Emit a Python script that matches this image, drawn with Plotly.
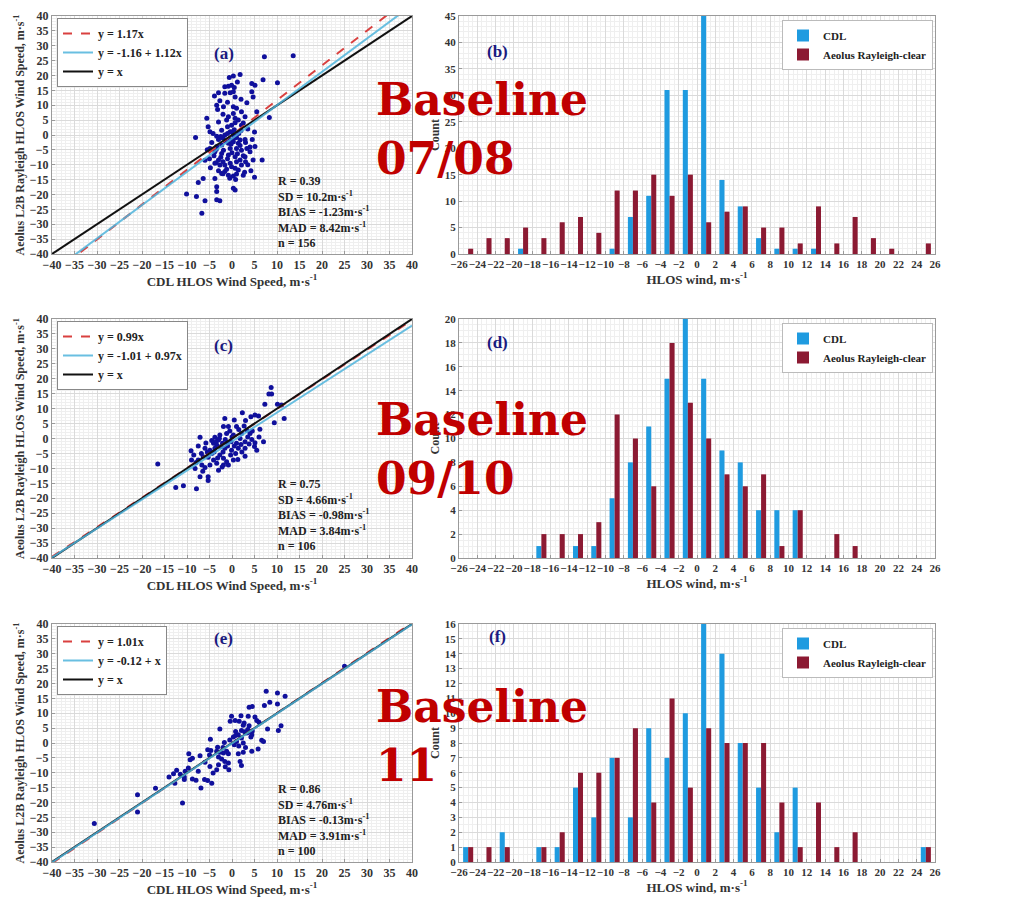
import plotly.graph_objects as go

W, H = 1010, 901

# ---------------- data ----------------
# scatter (CDL HLOS, Aeolus HLOS) pairs, m/s
a_pairs = [
    (7.2, 26.3), (13.6, 26.6), (1.8, 20.3), (0.3, 19.8), (-0.6, 19.3), (1.2, 17.8), (-0.8, 16.4),
    (-1.6, 16.2), (-0.1, 16.7), (4.4, 17.3), (5.1, 16.7), (6.9, 18.6), (10.1, 17.6), (0.5, 16.0),
    (-0.4, 14.2), (-1.6, 14.0), (-3.0, 14.2), (-3.9, 13.1), (-2.7, 11.5), (-3.4, 10.0), (-1.9, 9.5),
    (-3.2, 8.6), (0.3, 14.5), (0.7, 12.8), (3.3, 10.8), (4.4, 14.5), (4.7, 12.8), (0.3, 9.5),
    (2.1, 7.8), (0.3, 7.2), (-0.8, 6.1), (0.7, 5.6), (1.4, 5.0), (2.9, 6.1), (5.5, 7.8), (8.3, 5.9),
    (-5.6, 5.6), (-8.1, -0.8), (-5.3, 2.8), (-4.9, 1.1), (-3.0, 4.4), (-2.3, 1.6), (-1.0, 2.8),
    (-0.1, 3.3), (0.7, 4.1), (2.1, 3.3), (-1.2, 5.0), (-0.4, 1.1), (-3.4, -0.4), (-4.2, 0.5),
    (-1.6, 0.0), (0.3, 0.0), (1.0, -0.8), (1.8, -1.7), (2.9, -1.5), (0.3, -2.3), (1.4, -2.8),
    (-0.8, -2.8), (-2.3, -3.4), (-3.4, -3.9), (-4.9, -4.5), (-3.8, -5.6), (-1.9, -5.1), (-0.4, -4.5),
    (1.0, -4.5), (2.1, -5.1), (3.3, -4.5), (4.0, -5.6), (5.1, -3.9), (2.9, -7.3), (1.8, -8.4),
    (0.7, -7.3), (-0.8, -6.7), (-2.3, -6.2), (-3.0, -8.4), (-3.8, -9.5), (-2.7, -10.1), (-1.6, -10.1),
    (-0.4, -9.5), (4.7, -8.4), (6.7, -8.4), (-0.1, -10.7), (0.7, -11.2), (1.4, -11.8), (2.1, -10.1),
    (-1.6, -12.3), (-2.3, -12.9), (-0.8, -13.5), (0.3, -13.8), (1.0, -13.1), (2.5, -13.5), (5.0, -14.2),
    (-3.8, -14.6), (-6.4, -14.6), (-7.5, -16.0), (-3.4, -17.4), (-3.4, -19.0), (0.3, -17.9), (0.7, -18.5),
    (-10.1, -19.8), (-7.9, -20.7), (-6.0, -22.1), (-3.4, -21.8), (-2.7, -22.1), (-6.7, -26.3),
    (-2.0, -9.0), (-3.5, -9.3), (-2.5, -7.5), (-1.0, -8.0), (0.0, -6.0), (1.2, -6.3), (2.5, -7.0),
    (3.0, -9.0), (-4.0, -7.0), (-5.0, -8.0), (-3.0, -1.5), (-2.0, -1.0), (-1.5, -2.0), (-0.5, -1.5),
    (0.5, -1.0), (0.8, -0.3), (1.5, 0.5), (2.0, 1.5), (0.0, 1.0), (-1.0, 0.5), (-2.5, -0.5),
    (-4.5, -2.5), (-5.5, -5.0), (-6.0, -8.5), (-3.0, -12.0), (-2.0, -13.0), (1.0, -9.0), (3.5, -10.0),
    (2.8, -12.5), (-0.5, -14.5), (4.0, -4.0), (3.0, -2.5), (4.5, -1.5), (5.0, 1.0), (3.5, 2.0),
    (2.5, 4.0), (1.0, 9.0), (-1.0, 11.0), (2.0, 12.0), (-2.0, 7.0), (0.5, 1.8), (-0.2, -3.0),
    (1.8, -3.5), (-3.5, -4.8), (-1.2, -11.5), (0.8, -15.0), (4.2, -12.0), (-4.8, -11.0),
]
c_pairs = [
    (8.7, 17.1), (8.2, 14.9), (8.8, 14.9), (7.3, 11.5), (10.1, 11.5), (11.0, 11.2), (11.6, 6.7),
    (9.4, 5.3), (2.3, 8.6), (4.2, 7.3), (5.1, 7.9), (5.9, 7.5), (-1.6, 6.7), (0.5, 6.2), (-1.9, 4.0),
    (-0.8, 4.0), (1.0, 4.0), (2.7, 4.2), (3.3, 2.8), (6.2, 3.1), (4.0, 1.7), (2.1, 1.7), (0.3, 1.2),
    (-1.2, 1.7), (-2.7, 1.2), (-3.8, 0.4), (-4.5, -0.7), (-3.0, -0.5), (-7.1, 0.4), (-4.1, -1.6),
    (-3.4, -2.2), (-2.1, -1.6), (-1.0, -1.4), (-0.2, -1.1), (1.0, -1.6), (2.9, -1.1), (4.4, -0.3),
    (5.1, -1.4), (7.0, -1.1), (-7.5, -2.5), (-9.1, -4.1), (-6.0, -3.3), (-4.9, -3.9), (-3.8, -3.3),
    (-1.6, -3.3), (-0.1, -3.9), (1.4, -3.3), (2.9, -3.3), (5.0, -2.7), (5.5, -3.9), (-9.0, -7.2),
    (-7.5, -7.2), (-6.4, -6.1), (-5.3, -6.3), (-4.1, -7.2), (-2.7, -5.5), (-1.9, -6.6), (-1.2, -7.8),
    (0.3, -7.2), (1.3, -7.0), (2.9, -5.9), (-8.2, -10.0), (-6.7, -8.9), (-6.0, -9.7), (-4.9, -8.9),
    (-3.4, -8.3), (-1.9, -8.9), (-0.8, -8.9), (-3.0, -10.6), (-7.1, -12.8), (-5.3, -12.8),
    (-5.3, -14.1), (-16.5, -8.5), (-12.5, -16.4), (-10.8, -15.8), (-7.9, -16.8),
    (-3.5, -1.0), (-2.5, -2.8), (-1.5, -0.3), (0.0, 0.5), (1.8, 0.0), (-2.0, -4.5), (-4.5, -5.0),
    (-5.8, -1.5), (-8.5, -5.5), (-6.8, -5.0), (0.5, -2.5), (2.0, -2.0), (3.5, 0.5), (4.5, 2.5),
    (-0.5, 2.5), (1.5, 3.0), (-3.2, -6.5), (-0.3, -5.5), (2.2, -4.5), (-2.8, 0.0), (-4.0, -4.5),
    (-8.0, -8.0), (3.8, -1.8), (6.0, 0.5), (-1.0, -2.5), (0.8, -5.0), (-5.5, -4.5), (3.0, 6.0),
    (-2.2, -9.5), (-6.5, -11.0),
]
e_pairs = [
    (7.6, 17.4), (10.1, 16.8), (11.8, 15.7), (8.4, 13.7), (7.2, 12.6), (10.1, 13.1), (3.8, 12.0),
    (4.5, 12.3), (-0.1, 9.0), (2.0, 9.2), (3.6, 9.0), (5.1, 8.7), (-0.4, 7.3), (0.7, 7.6), (1.6, 7.3),
    (2.7, 6.7), (5.5, 7.6), (3.8, 5.8), (-2.7, 4.7), (0.8, 3.9), (2.1, 4.2), (3.5, 4.5), (4.0, 3.9),
    (3.3, 3.4), (4.4, 2.8), (7.9, 4.7), (10.9, 5.8), (10.3, 4.2), (0.3, 2.0), (1.4, 2.8), (2.1, 1.7),
    (1.0, 0.5), (-4.8, 1.3), (-1.7, 0.2), (0.5, -0.6), (2.5, 0.0), (6.6, 0.9), (7.0, 0.5), (5.8, -2.0),
    (-3.2, -1.4), (-5.4, -2.3), (-4.7, -2.5), (-3.4, -2.8), (-2.7, -3.1), (-1.9, -3.4), (-1.2, -2.8),
    (-0.8, -3.6), (1.4, -3.6), (2.5, -3.1), (4.4, -2.8), (-9.6, -3.6), (-7.1, -4.3), (-8.8, -5.1),
    (-9.3, -5.6), (-3.0, -4.7), (-2.3, -5.4), (-1.6, -6.2), (-0.8, -6.7), (1.8, -6.2), (2.1, -7.6),
    (-3.0, -7.3), (-4.9, -7.9), (-3.4, -9.0), (-0.7, -9.0), (-9.7, -8.4), (-10.4, -9.5), (-4.2, -10.1),
    (-12.3, -9.2), (-13.0, -10.3), (-14.0, -11.4), (-12.7, -13.5), (-10.6, -11.4), (-10.6, -12.3),
    (-8.8, -12.1), (-6.1, -12.3), (-5.4, -12.6), (-4.5, -13.5), (-6.9, -15.1), (-17.0, -15.2),
    (-21.0, -17.4), (-11.0, -20.2), (-21.0, -23.2), (-30.6, -27.1), (25.0, 25.8),
    (0.8, 2.5), (2.8, 3.8), (3.0, -1.5), (-2.0, -1.5), (-0.5, 1.0), (1.5, -1.0), (4.5, 4.0),
    (-6.0, -6.5), (-7.5, -9.5), (-11.5, -10.5), (-5.0, -4.0), (2.5, 6.0), (4.2, 2.0), (-1.5, -8.0),
    (6.0, 7.0), (-8.0, -12.5),
]

# fit lines: (legend label, intercept, slope)
a_fits = [("y = 1.17x", 0.0, 1.17), ("y = -1.16 + 1.12x", -1.16, 1.12), ("y = x", 0.0, 1.0)]
c_fits = [("y = 0.99x", 0.0, 0.99), ("y = -1.01 + 0.97x", -1.01, 0.97), ("y = x", 0.0, 1.0)]
e_fits = [("y = 1.01x", 0.0, 1.01), ("y = -0.12 + x", -0.12, 1.0), ("y = x", 0.0, 1.0)]

# statistics: R, SD, BIAS, MAD, n
a_stats = ["0.39", "10.2", "-1.23", "8.42", "156"]
c_stats = ["0.75", "4.66", "-0.98", "3.84", "106"]
e_stats = ["0.86", "4.76", "-0.13", "3.91", "100"]

# histograms
hist_bins = [-25, -23, -21, -19, -17, -15, -13, -11, -9, -7, -5, -3, -1,
             1, 3, 5, 7, 9, 11, 13, 15, 17, 19, 21, 23, 25]
b_cdl    = [0, 0, 0, 1, 0, 0, 0, 0, 1, 7, 11, 31, 31, 45, 14, 9, 3, 1, 1, 1, 0, 0, 0, 0, 0, 0]
b_aeolus = [1, 3, 3, 5, 3, 6, 7, 4, 12, 12, 15, 11, 15, 6, 8, 9, 5, 5, 2, 9, 2, 7, 3, 1, 0, 2]
d_cdl    = [0, 0, 0, 0, 1, 0, 1, 1, 5, 8, 11, 15, 20, 15, 9, 8, 4, 4, 4, 0, 0, 0, 0, 0, 0, 0]
d_aeolus = [0, 0, 0, 0, 2, 2, 2, 3, 12, 10, 6, 18, 13, 10, 7, 6, 7, 1, 4, 0, 2, 1, 0, 0, 0, 0]
f_cdl    = [1, 0, 2, 0, 1, 1, 5, 3, 7, 3, 9, 7, 10, 16, 14, 8, 5, 2, 5, 0, 0, 0, 0, 0, 0, 1]
f_aeolus = [1, 1, 1, 0, 1, 2, 6, 6, 7, 9, 4, 11, 5, 9, 8, 8, 8, 4, 1, 4, 1, 2, 0, 0, 0, 1]

panel_letters = ["(a)", "(b)", "(c)", "(d)", "(e)", "(f)"]
baseline_labels = ["07/08", "09/10", "11"]
hist_ymax = [45, 20, 16]
hist_ydtick = [5, 2, 1]
hist_yminor = [1, 0.5, 0.5]

# ---------------- style ----------------
SERIF = "Liberation Serif"
BLUE_BAR = "#1f9be0"
RED_BAR = "#8c1a33"
DOT = "#10109c"
LINE_COLORS = ["#d9403f", "rgba(79,180,220,0.85)", "#111111"]
LINE_DASH = ["dash", "solid", "solid"]
DRAW_ORDER = [0, 2, 1]   # red, black, then blue on top
GRID = "#dadada"
MINOR = "#efefef"
AXC = "#9a9a9a"

SC_X = (52, 412)
HI_X = (459, 935)
ROWS = [(16, 254), (319, 558), (624, 862)]


def dx(p0, p1):
    return [p0 / W, p1 / W]


def dy(p0, p1):
    return [1 - p1 / H, 1 - p0 / H]


def px(x):
    return x / W


def py(y):
    return 1 - y / H


tickfont = dict(family=SERIF, size=12, color="#333333", weight="bold")
htickfont = dict(family=SERIF, size=11, color="#333333", weight="bold")
titlefont = dict(family=SERIF, size=13, color="#333333", weight="bold")


def base_axis():
    return dict(showline=True, linecolor=AXC, linewidth=1, mirror=True,
                ticks="inside", ticklen=3, tickcolor=AXC, showgrid=True,
                gridcolor=GRID, gridwidth=1, zeroline=False, tickfont=tickfont,
                automargin=False)


fig = go.Figure()
layout = dict(width=W, height=H, margin=dict(l=0, r=0, t=0, b=0),
              paper_bgcolor="white", plot_bgcolor="white", showlegend=True,
              barmode="group", bargap=0.45, bargroupgap=0.0)
annotations = []

scatter_sets = [(a_pairs, a_fits, a_stats), (c_pairs, c_fits, c_stats), (e_pairs, e_fits, e_stats)]
hist_sets = [(b_cdl, b_aeolus), (d_cdl, d_aeolus), (f_cdl, f_aeolus)]

for r in range(3):
    y0, y1 = ROWS[r]
    sa = 2 * r + 1   # scatter axis index
    ha = 2 * r + 2   # histogram axis index
    sx = "x" if sa == 1 else f"x{sa}"
    sy = "y" if sa == 1 else f"y{sa}"
    hx = f"x{ha}"
    hy = f"y{ha}"
    sleg = "legend" if r == 0 else f"legend{2 * r + 1}"
    hleg = f"legend{2 * r + 2}"

    pairs, fits, stats = scatter_sets[r]
    xs = [p[0] for p in pairs]
    ys = [p[1] for p in pairs]
    fig.add_trace(go.Scatter(x=xs, y=ys, mode="markers", xaxis=sx, yaxis=sy,
                             marker=dict(color=DOT, size=5), showlegend=False,
                             hoverinfo="skip"))
    for k in DRAW_ORDER:
        lab, b0, b1 = fits[k]
        fig.add_trace(go.Scatter(x=[-40, 40], y=[b0 + b1 * -40, b0 + b1 * 40], mode="lines",
                                 xaxis=sx, yaxis=sy, name=lab, legend=sleg, legendrank=k + 1,
                                 line=dict(color=LINE_COLORS[k], width=2, dash=LINE_DASH[k])))

    cdl, aeo = hist_sets[r]
    fig.add_trace(go.Bar(x=hist_bins, y=cdl, name="CDL", xaxis=hx, yaxis=hy, legend=hleg,
                         marker=dict(color=BLUE_BAR, line=dict(width=0))))
    fig.add_trace(go.Bar(x=hist_bins, y=aeo, name="Aeolus Rayleigh-clear", xaxis=hx, yaxis=hy,
                         legend=hleg, marker=dict(color=RED_BAR, line=dict(width=0))))

    # scatter axes
    xa = base_axis()
    xa.update(domain=dx(*SC_X), anchor=sy, range=[-40, 40], dtick=5, tick0=-40, tickangle=0,
              minor=dict(dtick=1, showgrid=True, gridcolor=MINOR),
              title=dict(text="CDL HLOS Wind Speed, m·s<sup>-1</sup>", font=titlefont, standoff=4))
    ya = base_axis()
    ya.update(domain=dy(y0, y1), anchor=sx, range=[-40, 40], dtick=5, tick0=-40,
              minor=dict(dtick=1, showgrid=True, gridcolor=MINOR),
              title=dict(text="Aeolus L2B Rayleigh HLOS Wind Speed, m·s<sup>-1</sup>",
                         font=dict(family=SERIF, size=12, color="#333333", weight="bold"),
                         standoff=2))
    layout["xaxis" if sa == 1 else f"xaxis{sa}"] = xa
    layout["yaxis" if sa == 1 else f"yaxis{sa}"] = ya

    # histogram axes
    hxa = base_axis()
    hxa.update(domain=dx(*HI_X), anchor=hy, range=[-26, 26], dtick=2, tick0=-26, tickangle=0,
               tickfont=htickfont,
               minor=dict(dtick=0.5, showgrid=True, gridcolor=MINOR),
               title=dict(text="HLOS wind, m·s<sup>-1</sup>", font=titlefont, standoff=4))
    hya = base_axis()
    hya.update(domain=dy(y0, y1), anchor=hx, range=[0, hist_ymax[r]], dtick=hist_ydtick[r], tick0=0,
               tickfont=htickfont,
               minor=dict(dtick=hist_yminor[r], showgrid=True, gridcolor=MINOR),
               title=dict(text="Count", font=dict(family=SERIF, size=12, color="#333333", weight="bold"),
                          standoff=2))
    layout[f"xaxis{ha}"] = hxa
    layout[f"yaxis{ha}"] = hya

    # legends
    layout[sleg] = dict(x=px(57), y=py(y0 + 2), xanchor="left", yanchor="top",
                        bgcolor="white", bordercolor="#888888", borderwidth=1,
                        font=dict(family=SERIF, size=12, color="#222222", weight="bold"),
                        tracegroupgap=0, itemwidth=30)
    layout[hleg] = dict(x=px(933), y=py(y0 + 4), xanchor="right", yanchor="top",
                        bgcolor="white", bordercolor="#bbbbbb", borderwidth=1,
                        font=dict(family=SERIF, size=11, color="#222222", weight="bold"),
                        tracegroupgap=0, itemwidth=30)

    # panel letters
    annotations.append(dict(text=panel_letters[2 * r], x=px(212), y=py(y0 + 26), xref="paper",
                            yref="paper", showarrow=False,
                            font=dict(family=SERIF, size=17, color="#1a1a80", weight="bold")))
    annotations.append(dict(text=panel_letters[2 * r + 1], x=px(497), y=py(y0 + 24), xref="paper",
                            yref="paper", showarrow=False,
                            font=dict(family=SERIF, size=17, color="#1a1a80", weight="bold")))

    # stats text
    st = ("R = " + stats[0] + "<br>SD = " + stats[1] + "m·s<sup>-1</sup><br>BIAS = " + stats[2]
          + "m·s<sup>-1</sup><br>MAD = " + stats[3] + "m·s<sup>-1</sup><br>n = " + stats[4])
    annotations.append(dict(text=st, x=px(276), y=py(y0 + 156), xref="paper", yref="paper",
                            xanchor="left", yanchor="top", align="left", showarrow=False,
                            font=dict(family=SERIF, size=12, color="#222222", weight="bold")))

    # Baseline overlay
    off = [0, 320, 607][r]
    annotations.append(dict(text="Baseline", x=px(374), y=py(99 + off), xref="paper", yref="paper",
                            xanchor="left", yanchor="middle", showarrow=False,
                            font=dict(family="DejaVu Serif", size=44, color="#c00000", weight="bold")))
    annotations.append(dict(text=baseline_labels[r], x=px(374), y=py(158 + off), xref="paper",
                            yref="paper", xanchor="left", yanchor="middle", showarrow=False,
                            font=dict(family="DejaVu Serif", size=44, color="#c00000", weight="bold")))

layout["annotations"] = annotations
fig.update_layout(**layout)
fig.write_html("out.html")
